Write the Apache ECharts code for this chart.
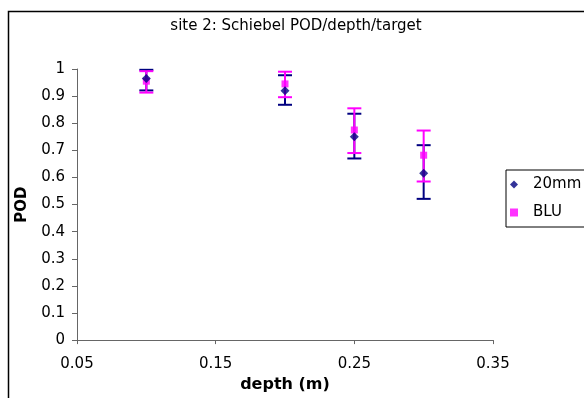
<!DOCTYPE html>
<html>
<head>
<meta charset="utf-8">
<script src="https://cdn.jsdelivr.net/npm/echarts@6/dist/echarts.min.js"></script>
<style>html,body{margin:0;padding:0;background:#fff}#c{width:584px;height:398px}</style>
</head>
<body>
<div id="c"></div>
<script>
const depth = [0.1, 0.2, 0.25, 0.3];
const pod20 = [0.965, 0.92, 0.75, 0.615];
const hi20 = [0.997, 0.977, 0.835, 0.719];
const lo20 = [0.921, 0.868, 0.67, 0.521];
const podBLU = [0.955, 0.945, 0.775, 0.682];
const hiBLU = [0.992, 0.99, 0.855, 0.773];
const loBLU = [0.913, 0.896, 0.69, 0.585];
const seriesNames = ['20mm', 'BLU'];
const colors = ['#000080', '#FF00FF'];

const FONT = 'DejaVu Sans';

function errData(lo, hi) { return depth.map((d, i) => [d, lo[i], hi[i]]); }
function errSeries(name, lo, hi, color) {
  return {
    type: 'custom', name: name + ' err', silent: true, z: 2,
    data: errData(lo, hi),
    encode: { x: 0, y: [1, 2] },
    renderItem: function (params, api) {
      const x = api.value(0);
      const pLo = api.coord([x, api.value(1)]);
      const pHi = api.coord([x, api.value(2)]);
      const hw = 7;
      const st = { stroke: color, lineWidth: 2 };
      return {
        type: 'group', children: [
          { type: 'line', shape: { x1: pLo[0], y1: pLo[1], x2: pHi[0], y2: pHi[1] }, style: st },
          { type: 'line', shape: { x1: pLo[0] - hw, y1: pLo[1], x2: pLo[0] + hw, y2: pLo[1] }, style: st },
          { type: 'line', shape: { x1: pHi[0] - hw, y1: pHi[1], x2: pHi[0] + hw, y2: pHi[1] }, style: st }
        ]
      };
    }
  };
}

const chart = echarts.init(document.getElementById('c'), null, { renderer: 'canvas' });
chart.setOption({
  animation: false,
  backgroundColor: '#fff',
  title: {
    text: 'site 2: Schiebel POD/depth/target',
    left: 291, top: 14, textAlign: 'center',
    textStyle: { fontFamily: FONT, fontSize: 15, fontWeight: 'normal', color: '#000' }
  },
  graphic: [{
    type: 'rect', shape: { x: 8.5, y: 11.5, width: 700, height: 500 },
    style: { fill: 'none', stroke: '#000', lineWidth: 1.5 }, silent: true
  }],
  legend: {
    orient: 'vertical', left: 506, top: 170,
    padding: [7, 40, 7, 4], itemWidth: 8, itemHeight: 8, itemGap: 13,
    borderColor: '#000', borderWidth: 1,
    data: [{ name: seriesNames[0], icon: 'diamond' }, { name: seriesNames[1], icon: 'rect' }],
    textStyle: { fontFamily: FONT, fontSize: 15, color: '#000', padding: [0, 0, 0, 10] }
  },
  grid: { left: 77, right: 91, top: 69, bottom: 43 },
  xAxis: {
    type: 'value', min: 0.05, max: 0.35, interval: 0.1,
    name: 'depth (m)', nameLocation: 'middle', nameGap: 25,
    nameTextStyle: { fontFamily: FONT, fontSize: 16, fontWeight: 'bold', color: '#000' },
    axisLine: { lineStyle: { color: '#666', width: 1 } },
    axisTick: { show: true, inside: false, length: 4, lineStyle: { color: '#666' } },
    axisLabel: { fontFamily: FONT, fontSize: 15, color: '#000', margin: 17, formatter: v => v.toFixed(2) },
    splitLine: { show: false }
  },
  yAxis: {
    type: 'value', min: 0, max: 1, interval: 0.1,
    name: 'POD', nameLocation: 'middle', nameGap: 47, nameRotate: 90,
    nameTextStyle: { fontFamily: FONT, fontSize: 15, fontWeight: 'bold', color: '#000' },
    axisLine: { show: true, lineStyle: { color: '#666', width: 1 } },
    axisTick: { show: true, inside: false, length: 5, lineStyle: { color: '#666' } },
    axisLabel: { fontFamily: FONT, fontSize: 15, color: '#000', margin: 12,
      formatter: v => String(Math.round(v * 10) / 10) },
    splitLine: { show: false }
  },
  series: [
    errSeries(seriesNames[0], lo20, hi20, colors[0]),
    errSeries(seriesNames[1], loBLU, hiBLU, colors[1]),
    {
      type: 'scatter', name: seriesNames[0], symbol: 'diamond', symbolSize: [9, 9], z: 4,
      itemStyle: { color: colors[0] },
      data: depth.map((d, i) => [d, pod20[i]])
    },
    {
      type: 'scatter', name: seriesNames[1], symbol: 'rect', symbolSize: 7, z: 3,
      itemStyle: { color: colors[1] },
      data: depth.map((d, i) => [d, podBLU[i]])
    }
  ]
});
</script>
</body>
</html>
